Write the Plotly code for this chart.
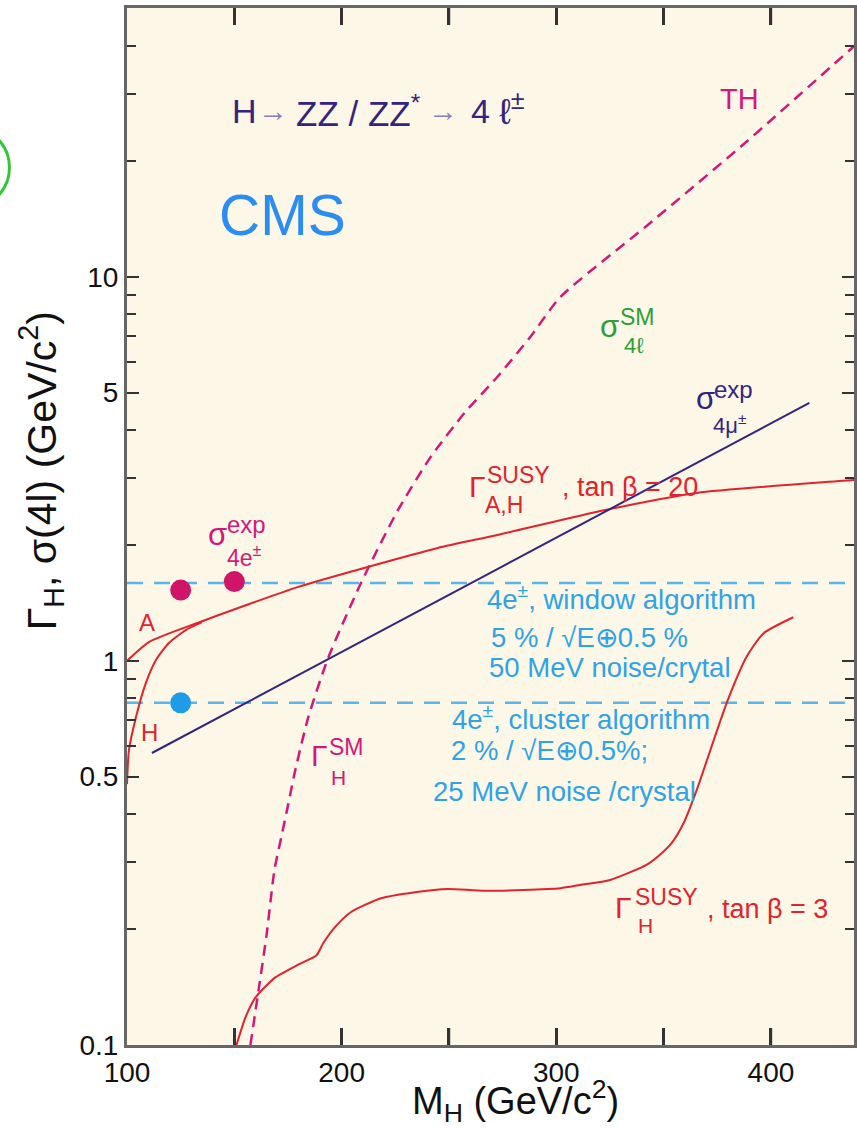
import plotly.graph_objects as go

# ---------------- data ----------------
# Gamma_H^SM (TH), dashed magenta
sm_mass = [157.5, 161.3, 165.0, 168.7, 171.9, 175.2, 178.4, 184.5, 193.7, 209.0,
           226.2, 241.5, 257.3, 272.6, 287.9, 301.9, 342.2, 388.6, 438.3, 444.8]
sm_width = [0.10, 0.139, 0.193, 0.286, 0.348, 0.426, 0.520, 0.715, 1.018, 1.596,
            2.47, 3.40, 4.43, 5.50, 6.98, 8.87, 13.6, 22.5, 39.7, 42.7]

# Gamma^SUSY_{A,H}, tan beta = 20 : A branch (continues as common curve)
a_mass = [100.0, 110.2, 133.4, 179.8, 210.9, 244.8, 272.6, 322.3, 365.4, 438.3, 450.0]
a_width = [1.0, 1.12, 1.26, 1.56, 1.75, 1.97, 2.13, 2.47, 2.74, 2.96, 3.0]
# H branch (joins the A curve)
h_mass = [100.0, 100.9, 104.2, 108.8, 113.5, 119.5, 127.4, 134.8]
h_width = [0.478, 0.586, 0.715, 0.877, 1.006, 1.114, 1.204, 1.26]

# Gamma^SUSY_H, tan beta = 3
h3_mass = [151.0, 155.2, 159.9, 169.1, 179.8, 188.2, 191.4, 197.0, 204.4, 218.3,
           234.1, 249.4, 266.6, 301.9, 311.1, 325.1, 342.2, 348.3, 353.8, 359.4,
           365.4, 379.4, 388.6, 396.5, 410.4]
h3_width = [0.10, 0.118, 0.133, 0.150, 0.162, 0.171, 0.184, 0.203, 0.222, 0.241,
            0.250, 0.255, 0.252, 0.256, 0.261, 0.269, 0.295, 0.313, 0.336, 0.379,
            0.461, 0.778, 1.024, 1.18, 1.30]

# sigma^exp_{4mu}
mu_mass = [111.6, 417.9]
mu_sigma = [0.576, 4.70]

# sigma^exp_{4e} levels (window / cluster algorithm)
lvl_mass = [100.0, 445.0]
window_sigma = [1.596, 1.596]
cluster_sigma = [0.778, 0.778]

# points
pt_e_mass = [125.0, 150.0]
pt_e_sigma = [1.53, 1.61]
pt_c_mass = [125.0]
pt_c_sigma = [0.778]

# axis ticks
x_labels = [100, 200, 300, 400]
x_ticks = [150, 200, 250, 300, 350, 400]
x_minor = [150, 250, 350]
y_ticks = [0.1, 0.5, 1, 5, 10]
y_ticktext = ["0.1", "0.5", "1", "5", "10"]
y_minor = [0.2, 0.3, 0.4, 0.6, 0.7, 0.8, 0.9, 2, 3, 4, 6, 7, 8, 9, 20, 30, 40, 50]

# ---------------- style ----------------
RED = "#e3222c"
MAG = "#d6177a"
NAVY = "#35247f"
LBLUE = "#2fa3e6"
DBLUE = "#5ab6ea"
GREEN = "#2e9e3a"
BEIGE = "#fcf7e6"
FONT = "Liberation Sans, Arial, sans-serif"

W, H = 857, 1128
L, R, T, B = 127, 0, 8, 83
PW = W - L - R
PH = H - T - B
XR = [100, 438.7]
YR = [-1, 1.7005]
TICK_PX = 17


def PX(xp):
    return (xp - L) / PW


def PY(yp):
    return (H - B - yp) / PH


fig = go.Figure()

common = dict(mode="lines", showlegend=False, hoverinfo="skip")
fig.add_trace(go.Scatter(x=lvl_mass, y=window_sigma, line=dict(color=DBLUE, width=2.5, dash="16px,11px"), **common))
fig.add_trace(go.Scatter(x=lvl_mass, y=cluster_sigma, line=dict(color=DBLUE, width=2.5, dash="16px,11px"), **common))
fig.add_trace(go.Scatter(x=sm_mass, y=sm_width, line=dict(color=MAG, width=2.5, dash="11px,7px", shape="spline", smoothing=0.6), **common))
fig.add_trace(go.Scatter(x=a_mass, y=a_width, line=dict(color=RED, width=2, shape="spline", smoothing=0.6), **common))
fig.add_trace(go.Scatter(x=h_mass, y=h_width, line=dict(color=RED, width=2, shape="spline", smoothing=0.6), **common))
fig.add_trace(go.Scatter(x=h3_mass, y=h3_width, line=dict(color=RED, width=2, shape="spline", smoothing=0.6), **common))
fig.add_trace(go.Scatter(x=mu_mass, y=mu_sigma, line=dict(color=NAVY, width=2), **common))
fig.add_trace(go.Scatter(x=pt_e_mass, y=pt_e_sigma, mode="markers", showlegend=False, hoverinfo="skip",
                         marker=dict(color="#d01467", size=21)))
fig.add_trace(go.Scatter(x=pt_c_mass, y=pt_c_sigma, mode="markers", showlegend=False, hoverinfo="skip",
                         marker=dict(color="#1e9ce8", size=21)))

anns = []


def ann(text, xp, yp, size, color, xanchor="center", angle=0):
    anns.append(dict(text=text, x=PX(xp), y=PY(yp), xref="paper", yref="paper",
                     xanchor=xanchor, yanchor="middle", showarrow=False, textangle=angle,
                     font=dict(family=FONT, size=size, color=color), borderpad=0))


ARW = "#8a7db0"
ann("H", 231, 111, 34, NAVY, "left")
ann("→", 274, 110, 30, ARW)
ann("ZZ / ZZ<sup>*</sup>", 296, 111, 35, NAVY, "left")
ann("→", 444, 110, 30, ARW)
ann("4", 471, 111, 34, NAVY, "left")
ann("ℓ<sup>±</sup>", 500, 109, 36, NAVY, "left")
ann("CMS", 283, 215, 57, "#2b8df2")
ann("TH", 742, 99, 29, MAG)

# sigma^SM_4l
ann("σ", 611, 326, 31, GREEN)
ann("SM", 621, 317, 23, GREEN, "left")
ann("4ℓ", 625, 346, 22, GREEN, "left")

# sigma^exp_4mu
ann("σ", 708, 398, 31, NAVY)
ann("exp", 715, 389, 24, NAVY, "left")
ann("4μ<sup>±</sup>", 714, 424, 22, NAVY, "left")

# Gamma^SUSY_A,H
ann("Γ", 479, 486, 30, RED)
ann("SUSY", 487, 475, 23, RED, "left")
ann("A,H", 485, 505, 23, RED, "left")
ann(", tan β = 20", 563, 487, 27, RED, "left")

# sigma^exp_4e
ann("σ", 218, 534, 31, MAG)
ann("exp", 226, 524, 24, MAG, "left")
ann("4e<sup>±</sup>", 226, 556, 23, MAG, "left")

ann("A", 147, 622, 24, RED)
ann("H", 150, 732, 24, RED)

# Gamma^SM_H
ann("Γ", 320, 755, 30, MAG)
ann("SM", 329, 747, 23, MAG, "left")
ann("H", 331, 777, 21, MAG, "left")

# Gamma^SUSY_H
ann("Γ", 626, 907, 30, RED)
ann("SUSY", 636, 897, 23, RED, "left")
ann("H", 639, 925, 21, RED, "left")
ann(", tan β = 3", 708, 909, 27, RED, "left")

# blue text blocks
BS = 27.5
ann("4e<sup>±</sup>, window algorithm", 487, 597, BS, LBLUE, "left")
ann("5 % / √E⊕0.5 %", 491, 637, BS, LBLUE, "left")
ann("50 MeV noise/crytal", 489, 668, BS, LBLUE, "left")
ann("4e<sup>±</sup>, cluster algorithm", 452, 718, BS, LBLUE, "left")
ann("2 % / √E⊕0.5%;", 451, 750, BS, LBLUE, "left")
ann("25 MeV noise /crystal", 433, 791, BS, LBLUE, "left")

# axis titles
ann("M<sub>H</sub> (GeV/c<sup>2</sup>)", 517, 1101, 38, "#111111")
ann("Γ<sub>H</sub>, σ(4l) (GeV/c<sup>2</sup>)", 41, 471, 41, "#111111", angle=-90)

TICKC = "#333333"
LINEC = "#666666"
tickfont = dict(family=FONT, size=28, color="#111111")

# x tick marks on bottom and top frame (x from the axis scale, length in paper units)
tick_h = TICK_PX / PH
shapes = []
for v in x_ticks:
    shapes.append(dict(type="line", xref="x", yref="paper", x0=v, x1=v, y0=0, y1=tick_h,
                       line=dict(color=TICKC, width=2.5), layer="above"))
    shapes.append(dict(type="line", xref="x", yref="paper", x0=v, x1=v, y0=1 - tick_h, y1=1,
                       line=dict(color=TICKC, width=2.5), layer="above"))
shapes.append(dict(type="circle", xref="paper", yref="paper",
                   x0=PX(-72), x1=PX(9), y0=PY(208), y1=PY(127),
                   line=dict(color="#33c633", width=3)))

fig.update_layout(
    width=W, height=H,
    margin=dict(l=L, r=R, t=T, b=B),
    paper_bgcolor="white",
    plot_bgcolor=BEIGE,
    font=dict(family=FONT),
    annotations=anns,
    shapes=shapes,
    xaxis=dict(range=XR, tickmode="array", tickvals=x_labels,
               ticktext=[str(v) for v in x_labels],
               ticks="inside", ticklen=17, tickwidth=2.5, tickcolor=TICKC, showline=True,
               linecolor=LINEC, linewidth=3, mirror="allticks", showgrid=False,
               zeroline=False, tickfont=tickfont,
               minor=dict(tickmode="array", tickvals=x_minor, ticks="inside", ticklen=17,
                          tickwidth=2.5, tickcolor=TICKC, showgrid=False)),
    yaxis=dict(type="log", range=YR, tickvals=y_ticks, ticktext=y_ticktext, ticks="inside",
               ticklen=12, tickwidth=2, tickcolor=TICKC, showline=True, linecolor=LINEC,
               linewidth=3, mirror="allticks", showgrid=False, zeroline=False, tickfont=tickfont,
               minor=dict(tickvals=y_minor, ticks="inside", ticklen=9, tickwidth=2,
                          tickcolor=TICKC, showgrid=False)),
)

fig.write_html("out.html")
